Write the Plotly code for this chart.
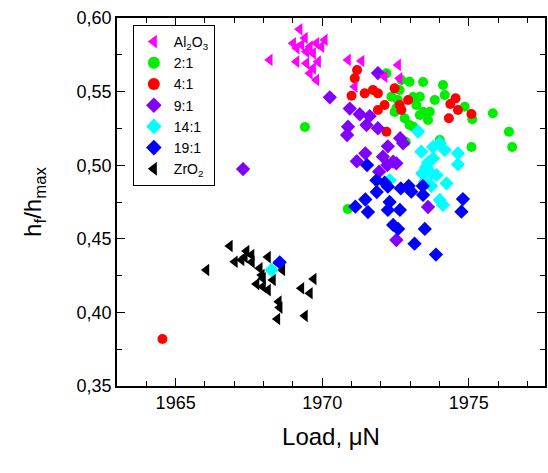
import plotly.graph_objects as go

# ---- data ----
al2o3_x = [1969.23, 1969.01, 1969.29, 1969.58, 1969.80, 1970.09, 1969.46, 1969.69, 1969.97, 1968.21,
           1969.12, 1969.46, 1969.86, 1969.58, 1969.80, 1969.69, 1970.88, 1971.34, 1972.59, 1972.13,
           1972.64, 1971.11, 1969.41, 1969.13]
al2o3_y = [0.5923, 0.5828, 0.5817, 0.5805, 0.5828, 0.5851, 0.5771, 0.5760, 0.5805, 0.5715,
           0.5703, 0.5692, 0.5703, 0.5624, 0.5579, 0.5658, 0.5715, 0.5708, 0.5681, 0.5601,
           0.5590, 0.5533, 0.5864, 0.5796]

r2_x = [1969.41, 1970.87, 1972.19, 1972.70, 1972.98, 1973.44, 1974.12, 1974.18, 1972.36, 1973.10,
        1972.53, 1973.21, 1972.47, 1972.81, 1972.98, 1973.44, 1973.61, 1973.67, 1974.86, 1975.12,
        1975.82, 1976.37, 1976.48, 1975.09, 1974.01, 1973.10, 1972.85, 1973.33, 1972.64, 1973.84,
        1973.33, 1972.58]
r2_y = [0.5260, 0.4702, 0.5624, 0.5579, 0.5567, 0.5565, 0.5545, 0.5477, 0.5465, 0.5463,
        0.5387, 0.5409, 0.5361, 0.5319, 0.5273, 0.5363, 0.5307, 0.5363, 0.5397, 0.5312,
        0.5353, 0.5228, 0.5124, 0.5124, 0.5171, 0.5262, 0.5158, 0.5465, 0.5511, 0.5443,
        0.5341, 0.5443]

r4_x = [1971.19, 1971.11, 1971.00, 1971.45, 1971.73, 1971.90, 1972.47, 1972.13, 1971.90, 1972.93,
        1972.64, 1972.70, 1972.19, 1974.55, 1974.37, 1974.63, 1975.09, 1974.32, 1964.55]
r4_y = [0.5647, 0.5590, 0.5472, 0.5488, 0.5511, 0.5488, 0.5522, 0.5409, 0.5375, 0.5443,
        0.5409, 0.5375, 0.5228, 0.5454, 0.5416, 0.5375, 0.5348, 0.5319, 0.3819]

r9_x = [1970.26, 1971.90, 1970.94, 1971.28, 1971.62, 1971.51, 1971.90, 1970.88, 1970.85, 1972.24,
        1972.66, 1972.76, 1971.47, 1971.18, 1972.07, 1972.22, 1972.53, 1971.94, 1973.61, 1972.53,
        1967.30, 1972.42]
r9_y = [0.5461, 0.5626, 0.5385, 0.5346, 0.5334, 0.5273, 0.5251, 0.5262, 0.5205, 0.5128,
        0.5183, 0.5149, 0.5081, 0.5027, 0.5058, 0.5001, 0.5013, 0.4956, 0.4716, 0.4492,
        0.4974, 0.5024]

r14_x = [1973.27, 1974.01, 1973.38, 1973.78, 1974.18, 1974.63, 1974.63, 1973.61, 1973.55, 1973.41,
         1973.72, 1973.90, 1973.50, 1974.24, 1973.72, 1974.01, 1974.12, 1972.30, 1968.27, 1973.78]
r14_y = [0.5229, 0.5149, 0.5092, 0.5124, 0.5103, 0.5081, 0.5005, 0.5018, 0.4988, 0.4945,
         0.4945, 0.4933, 0.4888, 0.4877, 0.4859, 0.4764, 0.4730, 0.4899, 0.4288, 0.5047]

r19_x = [1971.53, 1971.85, 1972.13, 1972.24, 1971.86, 1972.68, 1972.95, 1973.04, 1973.43, 1973.44,
         1971.47, 1971.13, 1971.56, 1972.30, 1972.24, 1972.65, 1972.42, 1972.59, 1973.50, 1973.15,
         1973.88, 1974.80, 1974.75, 1968.55]
r19_y = [0.5001, 0.4897, 0.4882, 0.4854, 0.4818, 0.4843, 0.4859, 0.4820, 0.4859, 0.4798,
         0.4767, 0.4718, 0.4682, 0.4750, 0.4696, 0.4696, 0.4594, 0.4567, 0.4567, 0.4467,
         0.4393, 0.4770, 0.4684, 0.4340]

zro2_x = [1966.85, 1967.42, 1967.59, 1967.02, 1967.25, 1967.36, 1968.15, 1968.49, 1968.64, 1967.87,
          1966.05, 1967.98, 1968.32, 1967.76, 1967.98, 1968.15, 1969.71, 1969.29, 1969.58, 1968.52,
          1968.55, 1968.47, 1969.41, 1967.94, 1967.60]
zro2_y = [0.4451, 0.4417, 0.4390, 0.4344, 0.4356, 0.4376, 0.4376, 0.4334, 0.4288, 0.4300,
          0.4288, 0.4232, 0.4220, 0.4193, 0.4175, 0.4152, 0.4227, 0.4164, 0.4130, 0.4073,
          0.4033, 0.3955, 0.3977, 0.4254, 0.4342]

x_tick_vals = [1965, 1970, 1975]
y_tick_vals = [0.35, 0.40, 0.45, 0.50, 0.55, 0.60]

FONT = "Liberation Sans, Arial, sans-serif"

# drawing order (bottom -> top) with legend ranks
series = [
    ("ZrO<sub>2</sub>", zro2_x, zro2_y, "triangle-left", "#000000", 11, 7),
    ("2:1", r2_x, r2_y, "circle", "#00EE00", 10, 2),
    ("4:1", r4_x, r4_y, "circle", "#FF0000", 10, 3),
    ("9:1", r9_x, r9_y, "diamond", "#7F00FF", 11, 4),
    ("14:1", r14_x, r14_y, "diamond", "#00FFFF", 11, 5),
    ("19:1", r19_x, r19_y, "diamond", "#0000FF", 11, 6),
    ("Al<sub>2</sub>O<sub>3</sub>", al2o3_x, al2o3_y, "triangle-left", "#FF00FF", 11, 1),
]

fig = go.Figure()
for name, xs, ys, sym, col, sz, rank in series:
    fig.add_trace(go.Scatter(
        x=xs, y=ys, mode="markers", name=name, legendrank=rank,
        marker=dict(symbol=sym, color=col, size=sz, line=dict(width=0)),
    ))

axis_common = dict(
    showline=True, linecolor="black", linewidth=1.6, mirror="ticks",
    ticks="inside", tickcolor="black", tickwidth=1.4, ticklen=8,
    showgrid=False, zeroline=False, automargin=False,
    tickfont=dict(family=FONT, size=18, color="black"),
)

fig.update_layout(
    width=548, height=473,
    margin=dict(l=117, r=3, t=18, b=87),
    paper_bgcolor="white", plot_bgcolor="white",
    separators=", ",
    font=dict(family=FONT, color="black"),
    xaxis=dict(
        range=[1963, 1977.6], tickvals=x_tick_vals, tickformat="d",
        minor=dict(dtick=1, tick0=1965, ticks="inside", ticklen=5, tickcolor="black", tickwidth=1.4),
        title=dict(text="Load, \u03bcN", font=dict(family=FONT, size=24), standoff=16),
        **axis_common,
    ),
    yaxis=dict(
        range=[0.35, 0.60], tickvals=y_tick_vals, tickformat=".2f",
        minor=dict(dtick=0.025, tick0=0.35, ticks="inside", ticklen=5, tickcolor="black", tickwidth=1.4),
        title=dict(text="h<sub>f</sub>/h<sub>max</sub>", font=dict(family=FONT, size=24), standoff=28),
        **axis_common,
    ),
    legend=dict(
        x=0.037, y=0.981, xanchor="left", yanchor="top",
        bgcolor="white", bordercolor="black", borderwidth=1,
        font=dict(family=FONT, size=14, color="black"),
        tracegroupgap=0, itemsizing="constant",
    ),
    showlegend=True,
)

fig.write_html(
    "out.html",
    config={"displayModeBar": False},
    post_script="document.body.style.margin='0';document.documentElement.style.overflow='hidden';",
)
